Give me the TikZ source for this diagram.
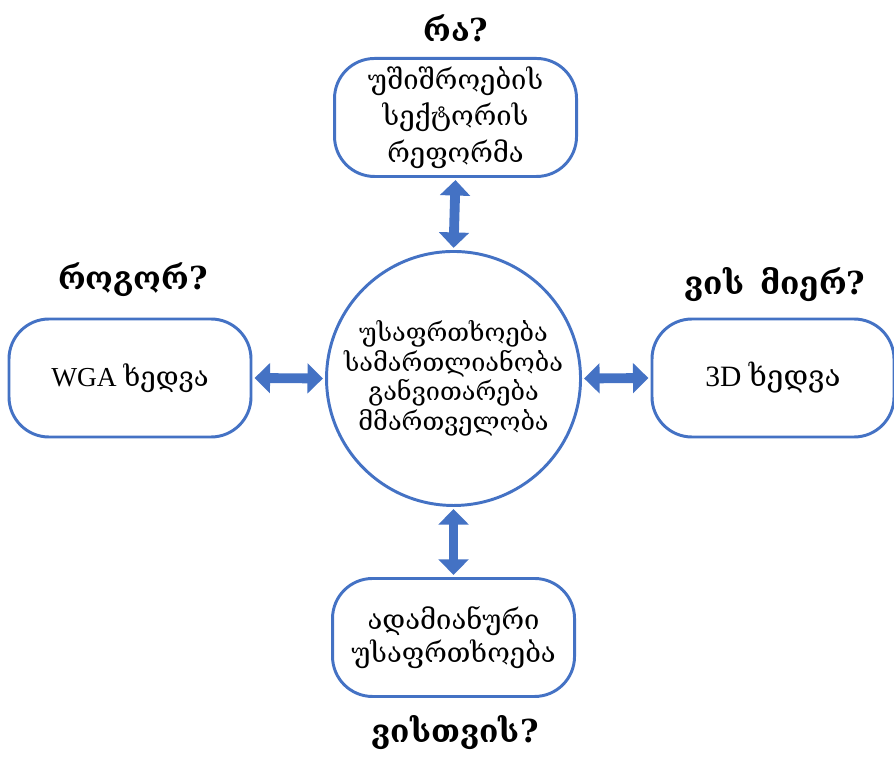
\documentclass[tikz,border=0pt]{standalone}
\usepackage{fontspec}
\setmainfont{Liberation Serif}
\newfontfamily\geofont{DejaVu Serif}
\usetikzlibrary{arrows.meta}
\definecolor{boxblue}{HTML}{4472C4}

\begin{document}
\begin{tikzpicture}[
		topic/.style={draw=boxblue, line width=2.1pt, rounded corners=1cm, minimum width=6.05cm, minimum height=2.95cm, align=center, font=\fontsize{19.5}{26}\selectfont},
		hub/.style={draw=boxblue, line width=2.1pt, circle, inner sep=0pt, minimum size=6.35cm, align=center, font=\geofont\fontsize{18}{21}\selectfont},
		question/.style={font=\geofont\bfseries\fontsize{22.5}{26}\selectfont},
		link/.style={draw=boxblue, line width=7pt, {Triangle[width=21pt, length=11pt]}-{Triangle[width=21pt, length=11pt]}, shorten <=1.5pt, shorten >=1.5pt}
	]
		\useasboundingbox (0, 0) rectangle (22.35, 18.9);
		% Paths, nodes and wires:
		\node[hub] (hub) at (11.338, 9.438){უსაფრთხოება\\სამართლიანობა\\განვითარება\\მმართველობა};
		\node[topic] (reform) at (11.388, 15.963){\geofont უშიშროების\\\geofont სექტორის\\\geofont რეფორმა};
		\node[topic] (wga) at (3.25, 9.45){WGA {\geofont ხედვა}};
		\node[topic, font=\fontsize{21}{25}\selectfont] (threed) at (19.325, 9.45){3D {\geofont ხედვა}};
		\node[topic, font=\fontsize{19.5}{23}\selectfont] (human) at (11.338, 2.963){\geofont ადამიანური\\\geofont უსაფრთხოება};
		\node[question] (what) at (11.4, 18.2){რა?};
		\node[question] (how) at (3.325, 11.9){როგორ?};
		\node[question] (bywhom) at (19.375, 11.775){ვის\hspace{0.15em} მიერ?};
		\node[question] (forwhom) at (11.375, 0.575){ვისთვის?};
		\draw[link] (reform.south) -- (hub.north);
		\draw[link] (wga.east) -- (hub.west);
		\draw[link] (threed.west) -- (hub.east);
		\draw[link] (human.north) -- (hub.south);
	\end{tikzpicture}
\end{document}
